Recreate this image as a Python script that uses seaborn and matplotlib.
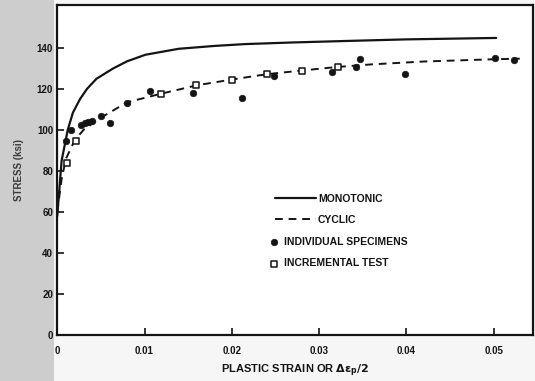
import numpy as np
import pandas as pd
import matplotlib
matplotlib.use("Agg")
import matplotlib.pyplot as plt
import seaborn as sns
from matplotlib.patches import Rectangle

# ---- data ----
mono_x = [0.0, 0.0005, 0.0012, 0.0018, 0.0026, 0.0034, 0.0045, 0.0064, 0.0080,
          0.0101, 0.0139, 0.0180, 0.0215, 0.0270, 0.0329, 0.0400, 0.0503]
mono_y = [58, 85, 100, 108.5, 115, 120, 125, 130, 133.5,
          136.7, 139.6, 141, 141.9, 142.7, 143.4, 144.2, 144.9]

cyc_x = [0.0, 0.0005, 0.0010, 0.0020, 0.0030, 0.0050, 0.0080, 0.0120, 0.0160,
         0.0200, 0.0240, 0.0280, 0.0320, 0.0360, 0.0420, 0.0500, 0.0530]
cyc_y = [60, 76, 86, 95, 100, 106, 113.5, 117.8, 121.8,
         124.6, 127.2, 129, 130.7, 132, 133.4, 134.5, 134.8]

spec_x = [0.0010, 0.0016, 0.0027, 0.0032, 0.0035, 0.0040, 0.0050, 0.0061, 0.0080,
          0.0106, 0.0156, 0.0212, 0.0248, 0.0315, 0.0342, 0.0347, 0.0398, 0.0502, 0.0523]
spec_y = [94.8, 100.2, 102.3, 103.3, 103.8, 104.3, 106.9, 103.6, 113.1,
          119.2, 117.8, 115.5, 126.1, 128.3, 130.5, 134.5, 127.2, 135.2, 134.0]

inc_x = [0.0011, 0.0022, 0.0119, 0.0159, 0.0200, 0.0240, 0.0281, 0.0322]
inc_y = [84.0, 94.4, 117.4, 121.8, 124.6, 127.5, 128.9, 130.8]

x_ticks = [0, 0.01, 0.02, 0.03, 0.04, 0.05]
x_ticklabels = ["0", "0.01", "0.02", "0.03", "0.04", "0.05"]
y_ticks = [0, 20, 40, 60, 80, 100, 120, 140]

# ---- figure ----
sns.set_theme(style="ticks")
plt.rcParams["font.family"] = ["Liberation Sans", "DejaVu Sans"]
plt.rcParams["font.weight"] = "bold"
plt.rcParams["mathtext.default"] = "bf"

ink = "#141414"
fig = plt.figure(figsize=(5.35, 3.81), dpi=100)
fig.patch.set_facecolor("#f6f6f6")
fig.patches.append(Rectangle((0, 0), 0.10, 1, transform=fig.transFigure,
                             facecolor="#cdcdcd", edgecolor="none", zorder=-5))
ax = fig.add_axes([0.107, 0.121, 0.889, 0.866])
ax.set_facecolor("white")

mono = pd.DataFrame({"x": mono_x, "y": mono_y})
cyc = pd.DataFrame({"x": cyc_x, "y": cyc_y})
spec = pd.DataFrame({"x": spec_x, "y": spec_y})
inc = pd.DataFrame({"x": inc_x, "y": inc_y})

sns.lineplot(data=mono, x="x", y="y", ax=ax, color=ink, linewidth=1.6,
             label="MONOTONIC", sort=False)
sns.lineplot(data=cyc, x="x", y="y", ax=ax, color=ink, linewidth=1.4,
             linestyle=(0, (4, 3)), label="CYCLIC", sort=False)
sns.scatterplot(data=spec, x="x", y="y", ax=ax, color=ink, marker="o", s=22,
                edgecolor=ink, linewidth=0.5, label="INDIVIDUAL SPECIMENS",
                zorder=4)
sns.scatterplot(data=inc, x="x", y="y", ax=ax, marker="s", s=17,
                facecolor="white", edgecolor=ink, linewidth=1.1,
                label="INCREMENTAL TEST", zorder=5)

ax.set_xlim(0, 0.0545)
ax.set_ylim(0, 161)
ax.set_xticks(x_ticks)
ax.set_xticklabels(x_ticklabels)
ax.set_yticks(y_ticks)
ax.tick_params(axis="both", direction="in", length=5, width=1.2, colors=ink,
               labelsize=7)
ax.tick_params(axis="y", pad=3)
ax.tick_params(axis="x", pad=8)
for lab in ax.get_xticklabels() + ax.get_yticklabels():
    lab.set_fontweight("bold")
for sp in ax.spines.values():
    sp.set_visible(True)
    sp.set_color(ink)
    sp.set_linewidth(1.6)

ax.set_xlabel(r"PLASTIC STRAIN OR $\Delta\epsilon_p/2$", fontsize=8,
              fontweight="bold", color=ink, labelpad=5)
ax.set_ylabel("STRESS (ksi)", fontsize=7, fontweight="bold", color="#3a3a3a",
              labelpad=9)

# legends: lines and markers, as in the reference
h_all, l_all = ax.get_legend_handles_labels()
hmap = dict(zip(l_all, h_all))
if ax.get_legend() is not None:
    ax.get_legend().remove()

line_labels = ["MONOTONIC", "CYCLIC"]
mark_labels = ["INDIVIDUAL SPECIMENS", "INCREMENTAL TEST"]

leg1 = ax.legend([hmap[k] for k in line_labels], line_labels,
                 loc="upper left", bbox_to_anchor=(0.458, 0.428), frameon=False,
                 fontsize=7.5, handlelength=3.9, handletextpad=0.2,
                 labelspacing=1.1, borderaxespad=0, borderpad=0)
for t in leg1.get_texts():
    t.set_fontweight("bold")
    t.set_color(ink)
ax.add_artist(leg1)
leg2 = ax.legend([hmap[k] for k in mark_labels], mark_labels,
                 loc="upper left", bbox_to_anchor=(0.448, 0.297), frameon=False,
                 fontsize=7.5, handlelength=0.8, handletextpad=0.5,
                 labelspacing=1.1, borderaxespad=0, borderpad=0, scatterpoints=1)
for t in leg2.get_texts():
    t.set_fontweight("bold")
    t.set_color(ink)

fig.savefig("out.png", dpi=100, facecolor=fig.get_facecolor())
